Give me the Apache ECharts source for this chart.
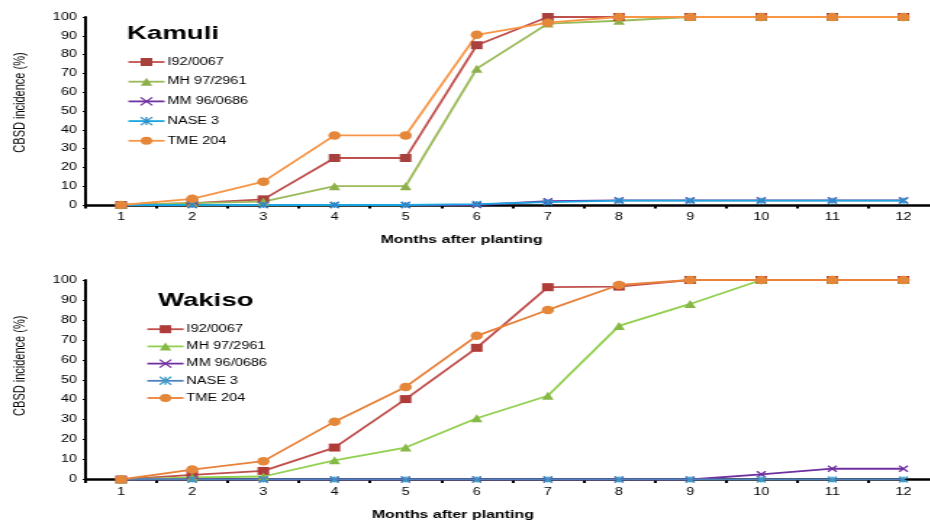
<!DOCTYPE html>
<html>
<head>
<meta charset="utf-8">
<script src="https://cdn.jsdelivr.net/npm/echarts@6/dist/echarts.min.js"></script>
<style>
  html, body { margin: 0; padding: 0; background: #fff; overflow: hidden; width: 930px; height: 521px; }
  /* the figure is drawn narrow and then widened horizontally; the extra width lets the axis run past the right edge */
  #chart { width: 660px; height: 521px; transform: scaleX(1.45); transform-origin: 0 0; }
</style>
</head>
<body>
<div id="chart"></div>
<script>
// Months after planting
const months = ['1', '2', '3', '4', '5', '6', '7', '8', '9', '10', '11', '12'];
const cultivars = ['I92/0067', 'MH 97/2961', 'MM 96/0686', 'NASE 3', 'TME 204'];

// CBSD incidence (%) — Kamuli
const kamuliI92 = [0, 1, 3, 25, 25, 85, 100, 100, 100, 100, 100, 100];
const kamuliMH97 = [0, 1, 1.8, 10, 10, 72.5, 96.5, 98, 100, 100, 100, 100];
const kamuliMM96 = [0, 0, 0, 0, 0, 0, 2, 2.5, 2.5, 2.5, 2.5, 2.5];
const kamuliNASE3 = [0, 0, 0, 0, 0, 0.5, 1.5, 2.3, 2.3, 2.3, 2.3, 2.3];
const kamuliTME204 = [0, 3.3, 12.4, 37, 37, 90.5, 97, 100, 100, 100, 100, 100];

// CBSD incidence (%) — Wakiso
const wakisoI92 = [0, 2.3, 4.3, 16, 40.3, 66, 96.4, 96.7, 100, 100, 100, 100];
const wakisoMH97 = [0, 1, 1.5, 9.6, 16, 30.7, 42, 77, 88, 100, 100, 100];
const wakisoMM96 = [0, 0, 0, 0, 0, 0, 0, 0, 0, 2.6, 5.4, 5.4];
const wakisoNASE3 = [0, 0, 0, 0, 0, 0, 0, 0, 0, 0, 0, 0];
const wakisoTME204 = [0, 5, 9.2, 29, 46.4, 72, 85, 97.5, 100, 100, 100, 100];

const yTicks = { min: 0, max: 100, interval: 10 };

const crossPath = 'path://M0,0L10,10M10,0L0,10';
const starPath = 'path://M0,0L10,10M10,0L0,10M5,0L5,10';

// marker shape, size, line colour, marker colour per cultivar and site
const styleTop = [
  { symbol: 'rect', size: 8, line: '#C0504D', mark: '#A8403D' },
  { symbol: 'triangle', size: 8, line: '#9BBB59', mark: '#8DB04A' },
  { symbol: crossPath, size: 6, line: '#7030A0', mark: '#7030A0', stroke: true },
  { symbol: starPath, size: 6, line: '#1AA6E0', mark: '#2F8FC8', stroke: true },
  { symbol: 'circle', size: 8.5, line: '#F79646', mark: '#E5873A' }
];
const styleBottom = [
  { symbol: 'rect', size: 8, line: '#C0504D', mark: '#B03C3A' },
  { symbol: 'triangle', size: 8, line: '#92D050', mark: '#86B845' },
  { symbol: crossPath, size: 6, line: '#7030A0', mark: '#7030A0', stroke: true },
  { symbol: starPath, size: 6, line: '#4F81BD', mark: '#3E9BC8', stroke: true },
  { symbol: 'circle', size: 8.5, line: '#E8823A', mark: '#E5873A' }
];

const topData = [kamuliI92, kamuliMH97, kamuliMM96, kamuliNASE3, kamuliTME204];
const bottomData = [wakisoI92, wakisoMH97, wakisoMM96, wakisoNASE3, wakisoTME204];

function makeSeries(values, st, name, idx) {
  return {
    type: 'line',
    name: name,
    xAxisIndex: idx,
    yAxisIndex: idx,
    data: values,
    symbol: st.symbol,
    symbolSize: st.size,
    showAllSymbol: true,
    lineStyle: { color: st.line, width: 1.8 },
    itemStyle: st.stroke
      ? { color: st.mark, borderColor: st.mark, borderWidth: 1.3 }
      : { color: st.mark, borderWidth: 0 },
    emphasis: { disabled: true },
    animation: false
  };
}

const series = [];
cultivars.forEach((c, i) => series.push(makeSeries(topData[i], styleTop[i], c, 0)));
cultivars.forEach((c, i) => series.push(makeSeries(bottomData[i], styleBottom[i], c, 1)));

function legendItems(styles) {
  return cultivars.map((c, i) => ({
    name: c,
    itemStyle: styles[i].stroke
      ? { color: styles[i].mark, borderColor: styles[i].mark, borderWidth: 1.3 }
      : { color: styles[i].mark, borderWidth: 0 },
    lineStyle: { color: styles[i].line, width: 1.8 }
  }));
}

const font = 'Arial, "Liberation Sans", sans-serif';

function xAxis(idx, labelMargin, nameGap, namePad) {
  return {
    type: 'category',
    gridIndex: idx,
    data: months,
    boundaryGap: true,
    name: 'Months after planting',
    nameLocation: 'middle',
    nameGap: nameGap,
    nameTextStyle: { fontFamily: font, fontSize: 11, fontWeight: 'bold', color: '#000', padding: [0, namePad, 0, 0] },
    axisLine: { lineStyle: { color: '#000', width: 2.5 } },
    axisTick: { show: true, length: 3.5, inside: false, lineStyle: { color: '#000', width: 2 } },
    axisLabel: { fontFamily: font, fontSize: 10, color: '#000', margin: labelMargin },
    splitLine: { show: false }
  };
}

function yAxis(idx, namePad) {
  return {
    type: 'value',
    gridIndex: idx,
    min: yTicks.min,
    max: yTicks.max,
    interval: yTicks.interval,
    name: 'CBSD incidence (%)',
    nameLocation: 'middle',
    nameGap: 40,
    nameTextStyle: { fontFamily: font, fontSize: 11, color: '#000', padding: [0, 0, 0, namePad] },
    axisLine: { show: true, lineStyle: { color: '#000', width: 2 } },
    axisTick: { show: true, length: 2, lineStyle: { color: '#000', width: 1.2 } },
    axisLabel: { fontFamily: font, fontSize: 10, color: '#000', margin: 6 },
    splitLine: { show: false }
  };
}

const chart = echarts.init(document.getElementById('chart'), null, { renderer: 'canvas' });
chart.setOption({
  animation: false,
  backgroundColor: '#fff',
  title: [
    { text: 'Kamuli', left: 87.6, top: 24, padding: 0, textStyle: { fontFamily: font, fontSize: 19, fontWeight: 'bold', color: '#000' } },
    { text: 'Wakiso', left: 109, top: 291, padding: 0, textStyle: { fontFamily: font, fontSize: 19, fontWeight: 'bold', color: '#000' } }
  ],
  legend: [
    {
      orient: 'vertical', left: 87.6, top: 57, padding: 0,
      itemWidth: 25, itemHeight: 10, itemGap: 9.7,
      textStyle: { fontFamily: font, fontSize: 10, color: '#000', padding: [0, 0, 0, -3] },
      selectedMode: false,
      data: legendItems(styleTop)
    },
    {
      orient: 'vertical', left: 100.7, top: 324.2, padding: 0,
      itemWidth: 25, itemHeight: 10, itemGap: 7.2,
      textStyle: { fontFamily: font, fontSize: 10, color: '#000', padding: [0, 0, 0, -3] },
      selectedMode: false,
      data: legendItems(styleBottom)
    }
  ],
  grid: [
    { left: 56.6, top: 17, width: 591, height: 188, containLabel: false },
    { left: 56.6, top: 280, width: 591, height: 202, containLabel: false }
  ],
  xAxis: [xAxis(0, 7, 29, 70), xAxis(1, 8, 29.5, 82)],
  yAxis: [yAxis(0, 17), yAxis(1, 28)],
  series: series
});
</script>
</body>
</html>
